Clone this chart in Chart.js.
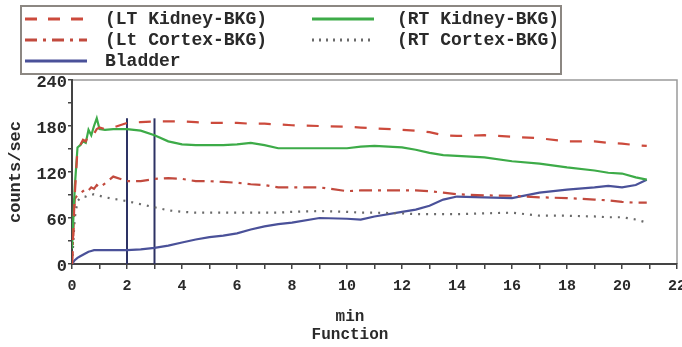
<!DOCTYPE html>
<html>
<head>
<title>Renogram</title>
<script src="https://cdn.jsdelivr.net/npm/chart.js"></script>
<style>
  body { margin: 0; background: #fff; }
  #wrap { position: relative; width: 682px; height: 347px; font-family: "Liberation Mono", monospace; font-weight: bold; color: #2a2a2a; }
  #chart { position: absolute; left: 0; top: 0; }
  #legend { position: absolute; left: 20px; top: 5px; width: 538px; height: 66px; border: 2px solid #8c8782; }
  .item { position: absolute; font-size: 18px; line-height: 20px; white-space: nowrap; }
  .item svg { position: absolute; top: 8px; }
  .xt { position: absolute; font-size: 16px; width: 120px; text-align: center; }
</style>
</head>
<body>
<div id="wrap">
  <canvas id="chart" width="682" height="347"></canvas>
  <div id="legend"></div>
  <div class="xt" style="left:290px; top:308px">min</div>
  <div class="xt" style="left:290px; top:326px">Function</div>
</div>
<script>
// time in minutes
var times = [0, 0.1, 0.2, 0.3, 0.4, 0.5, 0.6, 0.7, 0.8, 0.9, 1.0, 1.2, 1.5, 2, 2.5, 3, 3.5, 4, 4.5, 5,
  5.5, 6, 6.5, 7, 7.5, 8, 9, 10, 10.5, 11, 12, 12.5, 13, 13.5, 14, 15, 16, 17, 18, 19, 19.5, 20, 20.5, 20.9];

var ltKidney = [0, 90, 150, 155, 162, 160, 168, 172, 170, 176, 178, 176, 178, 184, 185, 186, 186, 186, 185, 184,
  184, 184, 183, 183, 182, 181, 180, 179, 178, 177, 175, 174, 172, 168, 167, 168, 166, 164, 160, 160, 158, 157, 155, 154];
var rtKidney = [20, 100, 152, 155, 160, 158, 175, 168, 180, 190, 176, 175, 176, 176, 174, 168, 160, 156, 155, 155,
  155, 156, 158, 155, 151, 151, 151, 151, 153, 154, 152, 149, 145, 142, 141, 139, 134, 131, 126, 122, 119, 118, 113, 110];
var ltCortex = [0, 85, 90, 92, 95, 98, 96, 100, 98, 103, 100, 105, 114, 108, 108, 111, 112, 111, 108, 108,
  107, 106, 104, 103, 100, 100, 100, 95, 96, 96, 96, 96, 95, 93, 91, 89.5, 89, 87, 86, 84, 83, 81, 80, 80];
var rtCortex = [0, 60, 82, 86, 88, 88, 90, 90, 91, 90, 89, 87, 85, 82, 78, 74, 70, 68, 67, 67,
  67, 67, 67, 67, 67, 68, 69, 68, 67, 67, 66, 65, 65, 65, 65, 66, 67, 63, 63, 62, 61, 61, 58, 54];
var bladder = [0, 5, 8, 10, 12, 14, 16, 17, 18, 18, 18, 18, 18, 18, 19, 21, 24, 28, 32, 35,
  37, 40, 45, 49, 52, 54, 60, 59, 58, 62, 68, 71, 76, 84, 88, 87, 86, 93, 97, 100, 102, 100, 103, 110];

var markerTimes = [2, 3];
var markerTop = 190;

var xTicks = [0, 2, 4, 6, 8, 10, 12, 14, 16, 18, 20, 22];
var yTicks = [0, 60, 120, 180, 240];

var series = [
  { name: '(LT Kidney-BKG)', values: ltKidney, color: '#cc4a3c', dash: [12, 12], legendDash: '12 11', col: 0, row: 0 },
  { name: '(RT Kidney-BKG)', values: rtKidney, color: '#3dab48', dash: [], legendDash: '', col: 1, row: 0 },
  { name: '(Lt Cortex-BKG)', values: ltCortex, color: '#c24a3e', dash: [13, 6, 3, 6], legendDash: '12 6 3 6', col: 0, row: 1 },
  { name: '(RT Cortex-BKG)', values: rtCortex, color: '#6a6a6a', dash: [2, 6], legendDash: '2 5', col: 1, row: 1 },
  { name: 'Bladder', values: bladder, color: '#4a5199', dash: [], legendDash: '', col: 0, row: 2 }
];

// legend
var legend = document.getElementById('legend');
series.forEach(function(s) {
  var d = document.createElement('div');
  d.className = 'item';
  var sx = s.col === 0 ? 3 : 290;
  d.style.left = sx + 'px';
  d.style.top = (2 + s.row * 21) + 'px';
  d.innerHTML = '<svg width="62" height="4"><line x1="0" y1="2" x2="62" y2="2" stroke="' + s.color +
    '" stroke-width="3"' + (s.legendDash ? ' stroke-dasharray="' + s.legendDash + '"' : '') + '/></svg>' +
    '<span style="position:absolute;left:' + (s.col === 0 ? 80 : 85) + 'px">' + s.name + '</span>';
  legend.appendChild(d);
});

var datasets = series.map(function(s) {
  return {
    label: s.name,
    data: times.map(function(t, i) { return { x: t, y: s.values[i] }; }),
    borderColor: s.color,
    borderDash: s.dash,
    borderWidth: 2.2,
    pointRadius: 0,
    tension: 0
  };
});
markerTimes.forEach(function(t) {
  datasets.push({
    label: 'marker',
    data: [{ x: t, y: 0 }, { x: t, y: markerTop }],
    borderColor: '#2d3264',
    borderWidth: 2,
    pointRadius: 0
  });
});

var frame = {
  id: 'frame',
  beforeDraw: function(chart) {
    var a = chart.chartArea, c = chart.ctx;
    c.save();
    c.strokeStyle = '#9a9a9a';
    c.lineWidth = 1.5;
    c.beginPath();
    c.moveTo(a.left, a.top);
    c.lineTo(a.right, a.top);
    c.lineTo(a.right, a.bottom);
    c.stroke();
    c.restore();
  }
};

var ctx = document.getElementById('chart').getContext('2d');
new Chart(ctx, {
  type: 'line',
  data: { datasets: datasets },
  plugins: [frame],
  options: {
    responsive: false,
    animation: false,
    layout: { padding: { top: 80, right: 5, left: 0, bottom: 0 } },
    plugins: { legend: { display: false }, tooltip: { enabled: false } },
    scales: {
      x: {
        type: 'linear', min: 0, max: 22,
        afterFit: function(s) { s.height = 83; s.paddingRight = 0; },
        afterBuildTicks: function(s) {
          s.ticks = [];
          for (var v = 0; v <= 22; v++) s.ticks.push({ value: v });
        },
        ticks: {
          autoSkip: false, maxRotation: 0, padding: 8, color: '#2a2a2a',
          font: { family: 'Liberation Mono', weight: 'bold', size: 15 },
          callback: function(v) { return xTicks.indexOf(v) >= 0 ? String(v) : ''; }
        },
        grid: { drawOnChartArea: false, tickLength: 5, color: '#444', lineWidth: 1.5 },
        border: { color: '#444', width: 2 }
      },
      y: {
        min: 0, max: 240,
        afterFit: function(s) { s.width = 72; },
        afterBuildTicks: function(s) {
          s.ticks = [];
          for (var v = 0; v <= 240; v += 30) s.ticks.push({ value: v });
        },
        ticks: {
          autoSkip: false, padding: 1, labelOffset: 3, color: '#2a2a2a',
          font: { family: 'Liberation Mono', weight: 'bold', size: 17 },
          callback: function(v) { return yTicks.indexOf(v) >= 0 ? String(v) : ''; }
        },
        grid: { drawOnChartArea: false, tickLength: 4, color: '#444', lineWidth: 1.5 },
        border: { color: '#444', width: 2 },
        title: {
          display: true, text: 'counts/sec', color: '#2a2a2a',
          font: { family: 'Liberation Mono', weight: 'bold', size: 17 },
          padding: { top: 6, bottom: 0 }
        }
      }
    }
  }
});
</script>
</body>
</html>
